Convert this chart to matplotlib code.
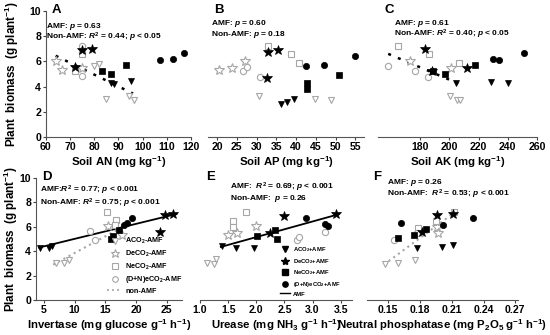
import matplotlib
matplotlib.use("Agg")
import matplotlib.pyplot as plt
import numpy as np
from matplotlib.lines import Line2D

plt.rcParams['font.family'] = ['Liberation Sans', 'DejaVu Sans']
plt.rcParams['font.weight'] = 'bold'
plt.rcParams['mathtext.fontset'] = 'custom'
plt.rcParams['mathtext.rm'] = 'Liberation Sans:bold'
plt.rcParams['mathtext.it'] = 'Liberation Sans:bold:italic'
plt.rcParams['mathtext.bf'] = 'Liberation Sans:bold'

groups = ['A', 'De', 'Ne', 'DN']
markers = {'A': 'v', 'De': '*', 'Ne': 's', 'DN': 'o'}
msize = {'A': 5, 'De': 7, 'Ne': 4.5, 'DN': 4.5}

# ---------------- Panel A : Soil AN ----------------
A_amf_x = {'A': [87, 88, 95], 'De': [75, 79, 72], 'Ne': [83, 87, 93], 'DN': [107, 112.5, 117]}
A_amf_y = {'A': [4.3, 4.2, 4.45], 'De': [6.9, 7.0, 5.55], 'Ne': [5.25, 5.0, 5.7], 'DN': [6.1, 6.2, 6.7]}
A_non_x = {'A': [80, 82, 85, 94.5, 96.5], 'De': [64, 66.5, 75], 'Ne': [75, 72], 'DN': [75, 75]}
A_non_y = {'A': [5.6, 5.8, 3.0, 3.25, 2.9], 'De': [6.0, 5.3, 5.5], 'Ne': [6.55, 5.2], 'DN': [7.2, 4.85]}
A_fit_x = [64, 96]
A_fit_y = [6.45, 3.45]

# ---------------- Panel B : Soil AP ----------------
B_amf_x = {'A': [36.3, 37.7, 39.6], 'De': [32.9, 35.3, 32.6], 'Ne': [42.8, 42.8, 50.8], 'DN': [42.4, 47.1, 54.8]}
B_amf_y = {'A': [2.65, 2.75, 3.0], 'De': [6.75, 6.9, 4.65], 'Ne': [4.25, 3.8, 4.95], 'DN': [5.6, 5.7, 6.45]}
B_non_x = {'A': [30.5, 44.7, 48.8], 'De': [20.5, 23.8, 27.0], 'Ne': [32.9, 38.6, 40.7], 'DN': [26.6, 27.5, 30.8]}
B_non_y = {'A': [3.25, 3.0, 2.95], 'De': [5.3, 5.45, 6.05], 'Ne': [7.25, 6.6, 5.9], 'DN': [5.2, 5.55, 4.8]}

# ---------------- Panel C : Soil AK ----------------
C_amf_x = {'A': [204.5, 228.7, 240.1], 'De': [183, 188, 212], 'Ne': [196.7, 217.7, 188.5], 'DN': [229.8, 233.7, 250.9]}
C_amf_y = {'A': [4.3, 4.4, 4.25], 'De': [7.0, 5.2, 5.5], 'Ne': [5.0, 5.75, 5.25], 'DN': [6.2, 6.1, 6.7]}
C_non_x = {'A': [200.6, 205.1, 207.4], 'De': [173.1, 201.3], 'Ne': [164.5, 186.2, 206.3], 'DN': [157.8, 176.6, 185.3]}
C_non_y = {'A': [3.25, 2.95, 2.9], 'De': [6.05, 5.5], 'Ne': [7.25, 6.6, 5.9], 'DN': [5.6, 5.2, 4.8]}
C_fit_x = [158, 206]
C_fit_y = [6.6, 4.25]

# ---------------- Panel D : Invertase ----------------
D_amf_x = {'A': [4.4, 5.9, 6.3], 'De': [24.7, 26.1, 23.9], 'Ne': [15.9, 16.2, 17.3], 'DN': [18.1, 18.6, 19.3]}
D_amf_y = {'A': [4.25, 4.3, 4.4], 'De': [6.95, 7.05, 5.55], 'Ne': [5.0, 5.25, 5.75], 'DN': [6.15, 6.3, 6.7]}
D_non_x = {'A': [6.9, 8.3, 9.0], 'De': [15.5, 17.8], 'Ne': [15.3, 16.7, 16.5], 'DN': [12.5, 13.3]}
D_non_y = {'A': [3.0, 3.05, 3.3], 'De': [6.05, 5.3], 'Ne': [7.25, 6.55, 6.15], 'DN': [5.65, 4.9]}
D_amf_fit_x = [4.2, 26.6]
D_amf_fit_y = [4.3, 7.05]
D_non_fit_x = [6.5, 17.5]
D_non_fit_y = [2.9, 5.9]

# ---------------- Panel E : Urease ----------------
E_amf_x = {'A': [1.39, 1.64, 1.96], 'De': [2.25, 2.49, 3.42], 'Ne': [2.02, 2.34, 2.37], 'DN': [2.89, 3.22, 3.27]}
E_amf_y = {'A': [4.4, 4.25, 4.25], 'De': [5.5, 6.9, 7.05], 'Ne': [5.25, 5.75, 5.0], 'DN': [6.7, 6.25, 6.1]}
E_non_x = {'A': [1.125, 1.25, 1.28], 'De': [1.5, 1.66, 1.99], 'Ne': [1.59, 1.59, 1.81], 'DN': [2.72, 2.76, 3.22]}
E_non_y = {'A': [3.0, 2.95, 3.35], 'De': [5.35, 5.5, 6.1], 'Ne': [6.5, 5.95, 7.25], 'DN': [4.9, 5.15, 5.6]}
E_fit_x = [1.37, 3.44]
E_fit_y = [4.35, 7.0]

# ---------------- Panel F : Neutral phosphatase ----------------
F_amf_x = {'A': [0.177, 0.2012, 0.2116], 'De': [0.1962, 0.2110, 0.1817], 'Ne': [0.1591, 0.1748, 0.1858], 'DN': [0.1623, 0.2015, 0.2298]}
F_amf_y = {'A': [4.3, 4.35, 4.5], 'De': [7.0, 7.05, 5.6], 'Ne': [5.05, 5.3, 5.8], 'DN': [6.3, 6.15, 6.75]}
F_non_x = {'A': [0.1466, 0.159, 0.175], 'De': [0.196, 0.1966], 'Ne': [0.178, 0.195, 0.212], 'DN': [0.1553, 0.1775]}
F_non_y = {'A': [2.95, 3.0, 3.3], 'De': [6.0, 5.5], 'Ne': [5.9, 6.5, 7.2], 'DN': [4.95, 5.5]}
F_fit_x = [0.146, 0.213]
F_fit_y = [2.9, 7.2]

GRAY = '#a6a6a6'
YLABEL = 'Plant  biomass  (g plant$^{-1}$)'

fig = plt.figure(figsize=(5.5, 3.35), dpi=100)
W, H = 550.0, 335.0


def add_ax(l, r, t, b):
    return fig.add_axes([l / W, 1 - b / H, (r - l) / W, (b - t) / H])


def draw_points(ax, amf_x, amf_y, non_x, non_y):
    for g in groups:
        ax.plot(non_x[g], non_y[g], linestyle='none', marker=markers[g], ms=msize[g],
                mfc='white', mec=GRAY, mew=0.8, zorder=3)
    for g in groups:
        ax.plot(amf_x[g], amf_y[g], linestyle='none', marker=markers[g], ms=msize[g],
                mfc='black', mec='black', mew=0.5, zorder=4)


def style(ax, xlim, xticks, xlabels, xlabel, left=True):
    ax.set_xlim(*xlim)
    ax.set_ylim(0, 10)
    ax.set_xticks(xticks)
    ax.set_xticklabels(xlabels, fontsize=7.6, fontweight='bold')
    ax.spines['top'].set_visible(False)
    ax.spines['right'].set_visible(False)
    ax.tick_params(axis='x', direction='out', length=2.5, width=0.8, pad=1.2, color='#444444')
    ax.spines['bottom'].set_color('#555555')
    if left:
        ax.set_yticks([0, 2, 4, 6, 8, 10])
        ax.set_yticklabels(['0', '2', '4', '6', '8', '10'], fontsize=7.6, fontweight='bold')
        ax.tick_params(axis='y', direction='out', length=2.5, width=0.8, pad=1.0, color='#444444')
        ax.spines['left'].set_color('#555555')
    else:
        ax.spines['left'].set_visible(False)
        ax.set_yticks([])
    ax.set_xlabel(xlabel, fontsize=8.2, fontweight='bold', labelpad=1.2)
    ax.patch.set_alpha(0)


def letter(ax, s):
    ax.text(0.04, 1.005, s, transform=ax.transAxes, fontsize=9.5, fontweight='bold', va='center', ha='left')


def note(ax, x, y, s):
    ax.text(x, y, s, transform=ax.transAxes, fontsize=6.0, fontweight='bold', va='center', ha='left',
            zorder=6)


# Panel A
axA = add_ax(46, 191, 11, 137)
draw_points(axA, A_amf_x, A_amf_y, A_non_x, A_non_y)
axA.plot(A_fit_x, A_fit_y, color='black', lw=1.8, ls=(0, (1.2, 3.0)), zorder=2)
style(axA, (60, 120), [60, 70, 80, 90, 100, 110, 120], ['60', '70', '80', '90', '100', '110', '120'],
      'Soil AN (mg kg$^{-1}$)')
letter(axA, 'A')
note(axA, 0.0, 0.88, 'AMF: $p$ = 0.63')
note(axA, 0.0, 0.79, 'Non-AMF: $R^2$ = 0.44; $p$ < 0.05')

# Panel B
axB = add_ax(208, 364, 11, 137)
draw_points(axB, B_amf_x, B_amf_y, B_non_x, B_non_y)
style(axB, (17.7, 57.2), [20, 25, 30, 35, 40, 45, 50, 55], ['20', '25', '30', '35', '40', '45', '50', '55'],
      'Soil AP (mg kg$^{-1}$)', left=False)
letter(axB, 'B')
note(axB, 0.02, 0.9, 'AMF: $p$ = 0.60')
note(axB, 0.02, 0.815, 'Non-AMF: $p$ = 0.18')

# Panel C
axC = add_ax(378, 537, 11, 137)
draw_points(axC, C_amf_x, C_amf_y, C_non_x, C_non_y)
axC.plot(C_fit_x, C_fit_y, color='black', lw=1.8, ls=(0, (1.2, 3.0)), zorder=2)
style(axC, (151, 260), [180, 200, 220, 240, 260], ['180', '200', '220', '240', '260'],
      'Soil AK (mg kg$^{-1}$)', left=False)
letter(axC, 'C')
note(axC, 0.10, 0.9, 'AMF: $p$ = 0.61')
note(axC, 0.10, 0.815, 'Non-AMF: $R^2$ = 0.40; $p$ < 0.05')

# Panel D
axD = add_ax(36, 182, 178, 300)
draw_points(axD, D_amf_x, D_amf_y, D_non_x, D_non_y)
axD.plot(D_amf_fit_x, D_amf_fit_y, color='black', lw=1.3, zorder=2)
axD.plot(D_non_fit_x, D_non_fit_y, color=GRAY, lw=1.5, ls=(0, (1.0, 1.8)), zorder=2)
style(axD, (3.7, 27.5), [5, 10, 15, 20, 25], ['5', '10', '15', '20', '25'],
      'Invertase (mg glucose g$^{-1}$ h$^{-1}$)')
letter(axD, 'D')
note(axD, 0.03, 0.9, 'AMF:$R^2$ = 0.77; $p$ < 0.001')
note(axD, 0.03, 0.79, 'Non-AMF: $R^2$ = 0.75; $p$ < 0.001')
hD = [Line2D([], [], ls='none', marker=markers[g], ms=msize[g] * 0.9, mfc='white', mec=GRAY, mew=0.8) for g in groups]
hD.append(Line2D([], [], color=GRAY, lw=1.3, ls=(0, (1.0, 1.8))))
lD = ['ACO$_2$-AMF', 'DeCO$_2$-AMF', 'NeCO$_2$-AMF', '(D+N)eCO$_2$-AMF', 'non-AMF']
axD.legend(hD, lD, loc='lower right', bbox_to_anchor=(1.04, 0.0), frameon=False,
           prop={'size': 5.2, 'weight': 'bold'}, handlelength=2.0, labelspacing=0.35,
           handletextpad=0.5, borderaxespad=0.3)

# Panel E
axE = add_ax(200, 352, 178, 300)
draw_points(axE, E_amf_x, E_amf_y, E_non_x, E_non_y)
axE.plot(E_fit_x, E_fit_y, color='black', lw=1.3, zorder=2)
style(axE, (1.0, 3.7), [1.0, 1.5, 2.0, 2.5, 3.0, 3.5], ['1.0', '1.5', '2.0', '2.5', '3.0', '3.5'],
      'Urease (mg NH$_3$ g$^{-1}$ h$^{-1}$)', left=False)
letter(axE, 'E')
note(axE, 0.20, 0.92, 'AMF:  $R^2$ = 0.69; $p$ < 0.001')
note(axE, 0.20, 0.83, 'Non-AMF:  $p$ = 0.26')
hE = [Line2D([], [], ls='none', marker=markers[g], ms=msize[g] * 0.85, mfc='black', mec='black') for g in groups]
hE.append(Line2D([], [], color='black', lw=1.0))
lE = ['ACO$_2$+AMF', 'DeCO$_2$+AMF', 'NeCO$_2$+AMF', '(D+N)eCO$_2$+AMF', 'AMF']
axE.legend(hE, lE, loc='lower left', bbox_to_anchor=(0.5, 0.0), frameon=False,
           prop={'size': 4.2, 'weight': 'bold'}, handlelength=1.8, labelspacing=0.45,
           handletextpad=0.5, borderaxespad=0.2)

# Panel F
axF = add_ax(367, 518, 178, 300)
draw_points(axF, F_amf_x, F_amf_y, F_non_x, F_non_y)
axF.plot(F_fit_x, F_fit_y, color=GRAY, lw=1.5, ls=(0, (1.0, 1.8)), zorder=2)
style(axF, (0.13, 0.2725), [0.15, 0.18, 0.21, 0.24, 0.27], ['0.15', '0.18', '0.21', '0.24', '0.27'],
      'Neutral phosphatase (mg P$_2$O$_5$ g$^{-1}$ h$^{-1}$)', left=False)
letter(axF, 'F')
note(axF, 0.13, 0.965, 'AMF: $p$ = 0.26')
note(axF, 0.13, 0.865, 'Non-AMF:  $R^2$ = 0.53; $p$ < 0.001')

# shared y labels, one per row
fig.text(12 / W, 1 - 74 / H, YLABEL, rotation=90, fontsize=8.4, fontweight='bold', ha='center', va='center')
fig.text(10.5 / W, 1 - 239 / H, YLABEL, rotation=90, fontsize=8.4, fontweight='bold', ha='center', va='center')

fig.savefig('out.png', dpi=100)
